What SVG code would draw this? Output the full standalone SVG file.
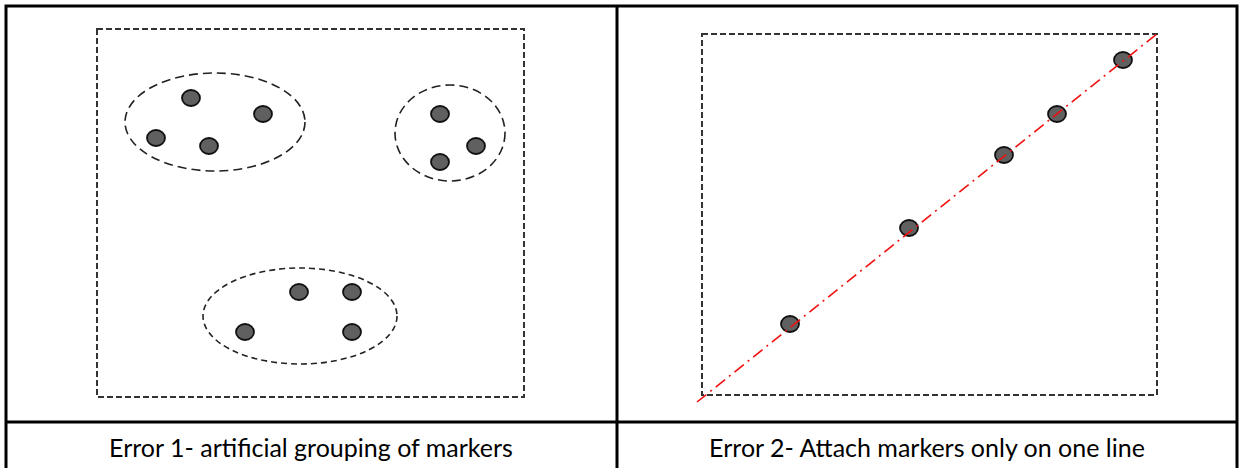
<svg xmlns="http://www.w3.org/2000/svg" width="1243" height="468" viewBox="0 0 1243 468">
<style>
.grid{stroke:#000;stroke-width:3;fill:none}
.frame{fill:none;stroke:#333;stroke-width:2;stroke-dasharray:6 3}
.group{fill:none;stroke:#222;stroke-width:1.6;stroke-dasharray:9 5}
.group2{fill:none;stroke:#222;stroke-width:1.6;stroke-dasharray:6 4}
.dot{fill:#606060;stroke:#111;stroke-width:1.8}
.fit{fill:none;stroke:#f01010;stroke-width:1.6;stroke-dasharray:12 5 2 5}
.cap{font-family:Lato,"Open Sans","Liberation Sans",sans-serif;font-size:25px;fill:#000;text-anchor:middle}
</style>
<rect width="1243" height="468" fill="#fff"/>
<g id="table">
<path class="grid" d="M6 470 V6 H1237 V470 M617 6 V470 M6 422 H1237"/>
</g>
<g id="panel1">
<rect class="frame" x="97" y="29" width="427" height="368"/>
<ellipse class="group" cx="215" cy="122" rx="90" ry="49"/>
<ellipse class="group" cx="450" cy="133" rx="55" ry="48"/>
<ellipse class="group2" cx="300" cy="316" rx="97" ry="48"/>
<ellipse class="dot" cx="191" cy="98" rx="9" ry="8"/>
<ellipse class="dot" cx="263" cy="114" rx="9" ry="8"/>
<ellipse class="dot" cx="156" cy="138" rx="9" ry="8"/>
<ellipse class="dot" cx="209" cy="146" rx="9" ry="8"/>
<ellipse class="dot" cx="440" cy="114" rx="9" ry="8"/>
<ellipse class="dot" cx="476" cy="146" rx="9" ry="8"/>
<ellipse class="dot" cx="440" cy="162" rx="9" ry="8"/>
<ellipse class="dot" cx="299" cy="292" rx="9" ry="8"/>
<ellipse class="dot" cx="352" cy="292" rx="9" ry="8"/>
<ellipse class="dot" cx="245" cy="332" rx="9" ry="8"/>
<ellipse class="dot" cx="352" cy="332" rx="9" ry="8"/>
<text class="cap" x="311" y="457">Error 1- artificial grouping of markers</text>
</g>
<g id="panel2">
<rect class="frame" x="702" y="34" width="455" height="361"/>
<ellipse class="dot" cx="790" cy="324" rx="9" ry="8"/>
<ellipse class="dot" cx="909" cy="228" rx="9" ry="8"/>
<ellipse class="dot" cx="1004" cy="155" rx="9" ry="8"/>
<ellipse class="dot" cx="1057" cy="114" rx="9" ry="8"/>
<ellipse class="dot" cx="1123" cy="60" rx="9" ry="8"/>
<text class="cap" x="927" y="457">Error 2- Attach markers only on one line</text>
</g>
<g id="connectors">
<line class="fit" x1="697" y1="402" x2="1158" y2="33"/>
</g>
</svg>
